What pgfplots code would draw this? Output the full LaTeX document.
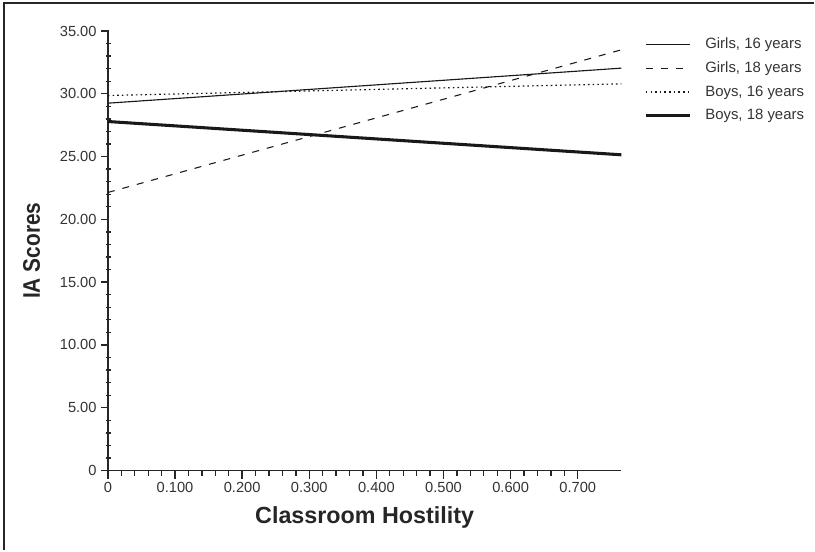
\documentclass[border=0pt]{standalone}
\usepackage{fontspec}
\setmainfont{Liberation Sans}
\usepackage{pgfplots}
\pgfplotsset{compat=1.18}

\begin{document}
\begin{tikzpicture}
\begin{axis}[
    name=ax,
    scale only axis,
    width=385.5pt, height=330pt,
    xmin=0, xmax=0.765,
    ymin=0, ymax=35,
    axis lines=left,
    axis line style={-, line width=1.3pt, black!85},
    xtick={0,0.1,0.2,0.3,0.4,0.5,0.6,0.7},
    xticklabels={0,0.100,0.200,0.300,0.400,0.500,0.600,0.700},
    minor x tick num=4,
    ytick={0,5,10,15,20,25,30,35},
    yticklabels={0,5.00,10.00,15.00,20.00,25.00,30.00,35.00},
    minor y tick num=4,
    tick style={line width=1pt, black!85},
    minor y tick style={xshift=2.25pt},
    major y tick style={xshift=1.2pt},
    x tick label style={font=\fontsize{11}{13}\selectfont, color=black!80, yshift=1pt},
    y tick label style={font=\fontsize{11}{13}\selectfont, color=black!80, xshift=1pt},
    tick align=outside,
    major tick length=6pt,
    minor tick length=4pt,
    xlabel={\bfseries Classroom Hostility},
    ylabel={\bfseries IA Scores},
    xlabel style={font=\fontsize{17.5}{20}\selectfont, color=black!85, yshift=-4pt},
    ylabel style={font=\fontsize{18}{20}\selectfont, color=black!85, yshift=8pt,
        transform shape, xscale=0.87},
    legend cell align=left,
    legend style={draw=none, fill=none, at={(1,1)}, anchor=north west,
        xshift=14pt, yshift=-1pt,
        font=\fontsize{11.2}{13}\selectfont, text=black!80,
        row sep=4.4pt},
    legend image code/.code={\draw[#1] (0pt,0pt) -- (33pt,0pt);},
]
\addplot[black!90, line width=0.85pt] coordinates {(0,29.25) (0.765,32.04)};
\addlegendentry{\hspace{8.5pt}Girls, 16 years}
\addplot[black!90, line width=0.8pt, dash pattern=on 5.25pt off 6pt] coordinates {(0,22.14) (0.765,33.5)};
\addlegendentry{\hspace{8.5pt}Girls, 18 years}
\addplot[black!90, line width=0.9pt, dash pattern=on 1.2pt off 2.3pt] coordinates {(0,29.86) (0.765,30.79)};
\addlegendentry{\hspace{8.5pt}Boys, 16 years}
\addplot[black!90, line width=2.3pt] coordinates {(0,27.79) (0.765,25.14)};
\addlegendentry{\hspace{8.5pt}Boys, 18 years}
\end{axis}
\draw[line width=1.2pt, black!85] ([xshift=-78pt,yshift=-60pt]ax.south west) -- ([xshift=-78pt,yshift=351pt]ax.south west) -- ([xshift=530.25pt,yshift=351pt]ax.south west);
\path[use as bounding box] ([xshift=-81pt,yshift=-60pt]ax.south west) rectangle ([xshift=530.25pt,yshift=353.25pt]ax.south west);
\end{tikzpicture}
\end{document}
